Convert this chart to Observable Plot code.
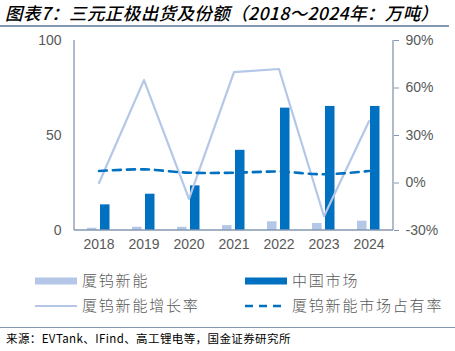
<!DOCTYPE html>
<html>
<head>
<meta charset="utf-8">
<script src="https://cdn.jsdelivr.net/npm/d3@7"></script>
<script src="https://cdn.jsdelivr.net/npm/@observablehq/plot@0.6"></script>
<style>
  html, body { margin: 0; padding: 0; background: #fff; width: 455px; height: 351px; overflow: hidden; }
  body { position: relative; font-family: "Noto Sans CJK SC", "Liberation Sans", sans-serif; }
  #title { position: absolute; left: 5px; top: 0px; font-size: 17.5px; font-style: italic; font-weight: 500; color: #000; white-space: nowrap; letter-spacing: 0.4px; }
  #topline { position: absolute; left: 0; top: 25px; width: 449px; height: 1.5px; background: #8497b0; }
  #chart { position: absolute; left: 0; top: 28px; }
  .lg { position: absolute; font-size: 15px; font-weight: 300; color: #595959; white-space: nowrap; letter-spacing: 1.8px; line-height: 18px; }
  .sw { position: absolute; }
  #botline { position: absolute; left: 0; top: 327px; width: 455px; height: 1px; background: #8497b0; }
  #source { position: absolute; left: 6px; top: 330px; font-size: 11.5px; color: #000; white-space: nowrap; letter-spacing: 0.4px; }
</style>
</head>
<body>
<div id="title">图表7：三元正极出货及份额（2018～2024年：万吨）</div>
<div id="topline"></div>
<div id="chart"></div>
<div id="legend"></div>
<div id="botline"></div>
<div id="source">来源：EVTank、IFind、高工锂电等，国金证券研究所</div>
<script>
// ---- data ----
const years = ["2018", "2019", "2020", "2021", "2022", "2023", "2024"];
const xwShipments = [1.2, 1.7, 1.7, 2.6, 4.6, 3.7, 4.9];        // 厦钨新能 (万吨)
const chinaMarket = [13.5, 19.1, 23.5, 42.2, 64.4, 65.3, 65.3]; // 中国市场 (万吨)
const xwGrowth = [0, 65, -10, 70, 72, -21, 39];                  // 厦钨新能增长率 (%)
const xwShare = [7.6, 8.6, 6.5, 6.5, 7.2, 5.5, 7.6];            // 厦钨新能市场占有率 (%)
const leftTicks = [0, 50, 100];
const rightTicks = [-30, 0, 30, 60, 90];
const seriesNames = ["厦钨新能", "中国市场", "厦钨新能增长率", "厦钨新能市场占有率"];

const cLight = "#b4c7e7", cDark = "#0070c0", cAxis = "#8497b0", cText = "#595959";

// right axis (-30%..90%) mapped onto the left scale (0..100)
const toLeft = p => (p + 30) * 100 / 120;
const fromLeft = v => v * 120 / 100 - 30;

const rows = years.map((y, i) => ({
  year: y, xw: xwShipments[i], cn: chinaMarket[i],
  g: toLeft(xwGrowth[i]), s: toLeft(xwShare[i])
}));

// axis line mark drawn from the plot's own dimensions/scales
const axisLines = (index, scales, values, dim) => {
  const y0 = scales.y(0), y1 = scales.y(100);
  const xl = dim.marginLeft, xr = dim.width - dim.marginRight;
  const g = d3.create("svg:g").attr("stroke", cAxis).attr("stroke-width", 1.3).attr("fill", "none");
  g.append("line").attr("x1", xl).attr("x2", xl).attr("y1", y0).attr("y2", y1);
  g.append("line").attr("x1", xr).attr("x2", xr).attr("y1", y0).attr("y2", y1);
  g.append("line").attr("x1", xl).attr("x2", xr).attr("y1", y0).attr("y2", y0);
  return g.node();
};

const chart = Plot.plot({
  width: 455, height: 240,
  marginLeft: 74, marginRight: 62, marginTop: 12, marginBottom: 38,
  style: { fontFamily: "'Liberation Sans', Arial, sans-serif", fontSize: "14px", color: cText, background: "transparent", overflow: "visible" },
  x: { type: "band", domain: years, padding: 0, axis: null, label: null },
  y: { domain: [0, 100], axis: null, label: null },
  marks: [
    Plot.barY(rows, { x: "year", y: "xw", fill: cLight, insetLeft: 11, insetRight: 24.5 }),
    Plot.barY(rows, { x: "year", y: "cn", fill: cDark, insetLeft: 24, insetRight: 11.5 }),
    Plot.line(rows, { x: "year", y: "g", stroke: cLight, strokeWidth: 2.2 }),
    Plot.line(rows, { x: "year", y: "s", stroke: cDark, strokeWidth: 2.6, strokeDasharray: "8,6", curve: "catmull-rom" }),
    axisLines,
    Plot.axisX({ tickSize: 0, tickPadding: 9, fontSize: 14, fill: cText, label: null }),
    Plot.axisY({ anchor: "left", ticks: leftTicks, tickSize: 0, tickPadding: 13, fontSize: 14, fill: cText, label: null }),
    Plot.axisY({ anchor: "right", ticks: rightTicks.map(toLeft), tickFormat: v => Math.round(fromLeft(v)) + "%",
      tickSize: 5, tickPadding: 7, stroke: cAxis, fontSize: 14, fill: cText, label: null })
  ]
});
document.getElementById("chart").appendChild(chart);

// ---- legend ----
const lg = document.getElementById("legend");
const items = [
  { name: seriesNames[0], kind: "rect", color: cLight, x: 35, y: 281 },
  { name: seriesNames[1], kind: "rect", color: cDark, x: 245, y: 281 },
  { name: seriesNames[2], kind: "line", color: cLight, x: 35, y: 306 },
  { name: seriesNames[3], kind: "dash", color: cDark, x: 245, y: 306 }
];
for (const it of items) {
  const sw = document.createElementNS("http://www.w3.org/2000/svg", "svg");
  sw.setAttribute("width", 42); sw.setAttribute("height", 10);
  sw.setAttribute("class", "sw");
  sw.style.left = it.x + "px"; sw.style.top = (it.y - 5) + "px";
  if (it.kind === "rect") {
    sw.innerHTML = `<rect x="0" y="1.5" width="42" height="7" fill="${it.color}"/>`;
  } else if (it.kind === "line") {
    sw.innerHTML = `<line x1="0" x2="42" y1="5" y2="5" stroke="${it.color}" stroke-width="2.2"/>`;
  } else {
    sw.innerHTML = `<line x1="0" x2="42" y1="5" y2="5" stroke="${it.color}" stroke-width="2.6" stroke-dasharray="8,6"/>`;
  }
  lg.appendChild(sw);
  const t = document.createElement("div");
  t.className = "lg"; t.textContent = it.name;
  t.style.left = (it.x + 47) + "px"; t.style.top = (it.y - 10) + "px";
  lg.appendChild(t);
}
</script>
</body>
</html>
